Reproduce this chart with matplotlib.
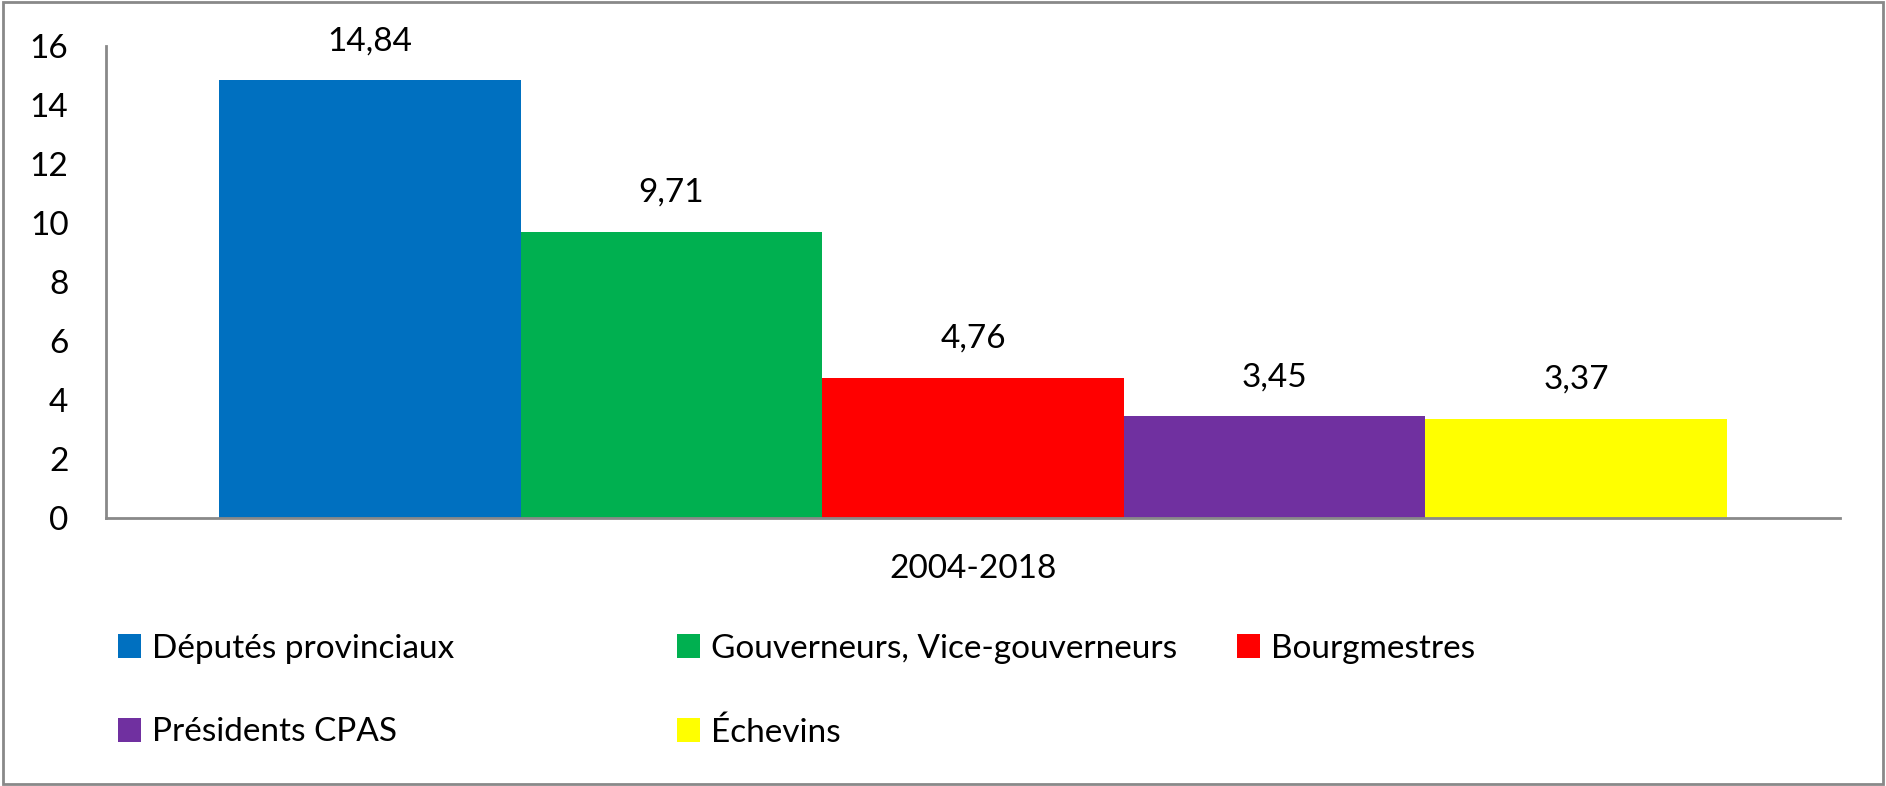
import matplotlib
matplotlib.use("Agg")
import matplotlib.pyplot as plt
from matplotlib.patches import Rectangle

categories = ["Députés provinciaux", "Gouverneurs, Vice-gouverneurs", "Bourgmestres",
              "Présidents CPAS", "Échevins"]
values = [14.84, 9.71, 4.76, 3.45, 3.37]
colors = ["#0070C0", "#00B050", "#FF0000", "#7030A0", "#FFFF00"]
group_label = "2004-2018"
yticks = [0, 2, 4, 6, 8, 10, 12, 14, 16]

plt.rcParams['font.family'] = ['Lato', 'DejaVu Sans']
FS = 24

fig = plt.figure(figsize=(18.86, 7.86), dpi=100)
ax = fig.add_axes([106/1886, 1-518/786, (1840-106)/1886, (518-46)/786])

xs = list(range(len(values)))
bars = []
for x, v, c, lab in zip(xs, values, colors, categories):
    b = ax.bar(x, v, width=1.0, color=c, label=lab)
    bars.append(b)
    ax.bar_label(b, labels=[f"{v:.2f}".replace('.', ',')], padding=17, fontsize=FS)

ax.set_xlim(-0.5-0.375, len(values)-0.5+0.375)
ax.set_ylim(0, 16)
ax.set_yticks(yticks)
ax.set_yticklabels([str(t) for t in yticks], fontsize=FS)
ax.set_xticks([(len(values)-1)/2])
ax.set_xticklabels([group_label], fontsize=FS)
ax.tick_params(axis='both', length=0)
ax.tick_params(axis='y', pad=27)
ax.tick_params(axis='x', pad=26)
for s in ['top', 'right']:
    ax.spines[s].set_visible(False)
for s in ['left', 'bottom']:
    ax.spines[s].set_color('#898989')
    ax.spines[s].set_linewidth(2)

# legend in three columns placed like the reference
cols = [([bars[0], bars[3]], [categories[0], categories[3]], 118),
        ([bars[1], bars[4]], [categories[1], categories[4]], 677),
        ([bars[2]], [categories[2]], 1237)]
for hs, ls, xpx in cols:
    leg = fig.legend(hs, ls, loc='upper left', bbox_to_anchor=(xpx/1886, 1-634/786),
                     frameon=False, fontsize=FS, handlelength=0.68, handleheight=0.72,
                     handletextpad=0.34, labelspacing=1.6, borderpad=0, borderaxespad=0)

fig.patches.append(Rectangle((0.0015, 0.002), 0.997, 0.995, transform=fig.transFigure,
                             fill=False, edgecolor='#898989', linewidth=2))

fig.savefig("out.png", dpi=100)
